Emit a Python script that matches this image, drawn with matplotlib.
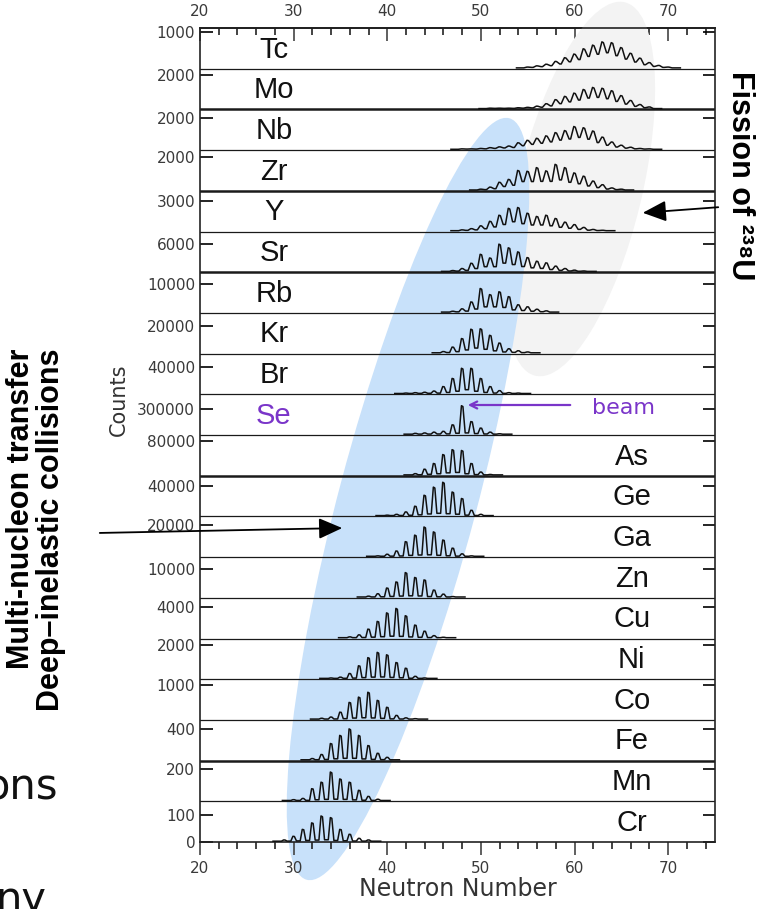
import matplotlib
matplotlib.use("Agg")
import matplotlib.pyplot as plt
from matplotlib.patches import Ellipse
from matplotlib.transforms import Affine2D
from matplotlib.ticker import MultipleLocator

# --- datos ---
elements = ['Tc', 'Mo', 'Nb', 'Zr', 'Y', 'Sr', 'Rb', 'Kr', 'Br', 'Se',
            'As', 'Ge', 'Ga', 'Zn', 'Cu', 'Ni', 'Co', 'Fe', 'Mn', 'Cr']
count_labels = ['1000', '2000', '2000', '2000', '3000', '6000', '10000', '20000', '40000', '300000',
                '80000', '40000', '20000', '10000', '4000', '2000', '1000', '400', '200', '100']
first_n = [55, 51, 48, 50, 48, 47, 47, 46, 42, 43, 43, 40, 39, 38, 36, 34, 33, 32, 30, 29]
peak_heights = [
    [0.02, 0.05, 0.09, 0.16, 0.25, 0.34, 0.47, 0.56, 0.64, 0.62, 0.50, 0.36, 0.24, 0.13, 0.06, 0.02],
    [0.01, 0.01, 0.01, 0.02, 0.03, 0.06, 0.12, 0.22, 0.30, 0.38, 0.47, 0.52, 0.50, 0.44, 0.32, 0.20, 0.10, 0.04],
    [0.01, 0.01, 0.02, 0.04, 0.06, 0.08, 0.16, 0.22, 0.27, 0.33, 0.41, 0.46, 0.56, 0.53, 0.45, 0.30, 0.18, 0.10, 0.05, 0.02, 0.01],
    [0.02, 0.07, 0.19, 0.26, 0.48, 0.46, 0.55, 0.47, 0.63, 0.55, 0.42, 0.34, 0.22, 0.13, 0.05, 0.02],
    [0.02, 0.05, 0.12, 0.23, 0.38, 0.55, 0.57, 0.43, 0.35, 0.38, 0.30, 0.21, 0.15, 0.08, 0.03, 0.01],
    [0.02, 0.07, 0.20, 0.42, 0.33, 0.67, 0.58, 0.48, 0.34, 0.25, 0.21, 0.13, 0.07, 0.03, 0.01],
    [0.02, 0.08, 0.25, 0.58, 0.43, 0.50, 0.38, 0.18, 0.13, 0.07, 0.03],
    [0.03, 0.14, 0.35, 0.58, 0.59, 0.43, 0.24, 0.10, 0.05, 0.02],
    [0.01, 0.02, 0.03, 0.06, 0.17, 0.37, 0.62, 0.62, 0.37, 0.17, 0.07, 0.02, 0.01],
    [0.02, 0.03, 0.05, 0.07, 0.23, 0.70, 0.31, 0.15, 0.05, 0.01],
    [0.03, 0.14, 0.28, 0.50, 0.62, 0.60, 0.28, 0.07, 0.01],
    [0.01, 0.03, 0.09, 0.23, 0.50, 0.70, 0.82, 0.58, 0.42, 0.13, 0.03],
    [0.01, 0.05, 0.13, 0.36, 0.52, 0.72, 0.60, 0.40, 0.20, 0.06, 0.01],
    [0.02, 0.08, 0.22, 0.37, 0.60, 0.48, 0.42, 0.17, 0.07, 0.01],
    [0.02, 0.07, 0.21, 0.40, 0.61, 0.72, 0.54, 0.31, 0.16, 0.05, 0.01],
    [0.01, 0.03, 0.12, 0.31, 0.51, 0.64, 0.58, 0.39, 0.25, 0.05, 0.01],
    [0.02, 0.05, 0.17, 0.41, 0.54, 0.66, 0.46, 0.29, 0.09, 0.03, 0.01],
    [0.03, 0.13, 0.40, 0.60, 0.76, 0.60, 0.35, 0.16, 0.06],
    [0.02, 0.05, 0.29, 0.45, 0.70, 0.53, 0.45, 0.25, 0.10, 0.03],
    [0.03, 0.12, 0.29, 0.45, 0.62, 0.58, 0.29, 0.17, 0.07, 0.03],
]
# profundidad de los valles entre picos (fraccion del pico menor)
valley_ratio = [0.6, 0.55, 0.55, 0.45, 0.4, 0.35, 0.3, 0.2, 0.15, 0.1,
                0.1, 0.08, 0.06, 0.06, 0.06, 0.06, 0.06, 0.06, 0.06, 0.06]

# --- estilo ---
tick_frac = [0.9, 0.85, 0.8, 0.83, 0.75, 0.7, 0.7, 0.68, 0.68, 0.63,
             0.85, 0.75, 0.78, 0.7, 0.78, 0.83, 0.85, 0.78, 0.8, 0.66]
tick_gray = [1, 1, 0, 0, 1, 1, 0, 0, 0, 1, 0, 0, 1, 0, 0, 1, 0, 0, 1, 1, 0]
peak_halfwidth = [0.42, 0.42, 0.42, 0.4, 0.38, 0.36, 0.35, 0.34, 0.33, 0.32,
                  0.3, 0.3, 0.3, 0.3, 0.3, 0.3, 0.3, 0.3, 0.3, 0.3]
thick_lines = [18, 16, 14, 9, 2]
purple = '#7a35c9'
W, H = 761, 909

fig = plt.figure(figsize=(W / 100, H / 100), dpi=100)
ax = fig.add_axes([200 / W, 1 - 842 / H, 515 / W, 814 / H])
px = Affine2D().scale(1 / W, -1 / H).translate(0, 1) + fig.transFigure  # coordenadas en pixeles

ax.set_xlim(20, 75)
ax.set_ylim(0, 20)

# elipses de fondo
ax.add_patch(Ellipse((580, 189), 384, 124, angle=-76.5, transform=px, facecolor='#f3f3f3',
                     edgecolor='none', zorder=0.4, clip_on=False))
ax.add_patch(Ellipse((408, 499), 788, 138, angle=-75.1, transform=px, facecolor='#c8e1fa',
                     edgecolor='none', zorder=0.5, clip_on=False))

# separadores de paneles
for b in range(1, 20):
    ax.axhline(b, color='#1a1a1a', lw=1.8 if b in thick_lines else 0.9, zorder=1)

# espectros
for k, name in enumerate(elements):
    base = 19 - k + 0.02
    hs = peak_heights[k]
    r = valley_ratio[k]
    hw = peak_halfwidth[k]
    xs, ys = [first_n[k] - 1.2], [0.0]
    for i, h in enumerate(hs):
        c = first_n[k] + i
        left = r * min(h, hs[i - 1]) if i > 0 else 0.0
        right = r * min(h, hs[i + 1]) if i < len(hs) - 1 else 0.0
        xs += [c - hw, c - 0.08, c + 0.08, c + hw]
        ys += [left, h, h * 0.97, right]
    xs.append(first_n[k] + len(hs) + 0.3)
    ys.append(0.0)
    ax.plot(xs, [base + y for y in ys], color='#111111', lw=1.1, zorder=3)

    color = purple if name == 'Se' else '#111111'
    xlab = 27.9 if k < 10 else 66.1
    ax.text(xlab, 19 - k + 0.47, name, ha='center', va='center', fontsize=21,
            family='Liberation Sans', color=color, zorder=4)

# ejes y
yt = [19 - k + tick_frac[k] for k in range(20)] + [0]
ax.set_yticks(yt)
ax.set_yticklabels(count_labels + ['0'], fontsize=11, color='#3a3a3a')
ax.tick_params(axis='y', direction='in', length=9, width=1.2, pad=3.5, right=True)
for t, g in zip(ax.yaxis.get_major_ticks(), tick_gray):
    c = '#b0b0b0' if g else '#222222'
    t.tick1line.set_color(c)
    t.tick2line.set_color(c)

# ejes x
ax.xaxis.set_major_locator(MultipleLocator(10))
ax.xaxis.set_minor_locator(MultipleLocator(2))
ax.tick_params(axis='x', which='major', direction='out', length=9, width=1.2, pad=5,
               labelsize=11, labelcolor='#3a3a3a', color='#444444')
ax.tick_params(axis='x', which='minor', direction='out', length=5, width=1.2, color='#222222')
top = ax.secondary_xaxis('top')
top.xaxis.set_major_locator(MultipleLocator(10))
top.xaxis.set_minor_locator(MultipleLocator(2))
top.tick_params(which='major', direction='in', length=9, width=1.2, pad=6.5,
                labelsize=11, labelcolor='#3a3a3a', color='#444444')
top.tick_params(which='minor', direction='in', length=5, width=1.2, color='#222222')
top.spines['top'].set_linewidth(1.2)

for s in ax.spines.values():
    s.set_linewidth(1.2)
    s.set_color('#222222')

# textos
fig.text(458, 889, 'Neutron Number', transform=px, ha='center', va='center',
         fontsize=17, color='#333333')
fig.text(119, 400, 'Counts', transform=px, ha='center', va='center', rotation=90,
         fontsize=15, color='#333333')
fig.text(623, 408, 'beam', transform=px, ha='center', va='center', fontsize=16, color=purple)
ax.annotate('', xy=(465, 405), xytext=(573, 405), xycoords=px, textcoords=px,
            arrowprops=dict(arrowstyle='->,head_length=0.5,head_width=0.25', color=purple, lw=1.6),
            annotation_clip=False)

fig.text(740, 176, 'Fission of \u00b2\u00b3\u2078U', transform=px, ha='center', va='center',
         rotation=270, fontsize=22, fontweight='bold', family=['Liberation Sans', 'DejaVu Sans'])
ax.annotate('', xy=(640, 213), xytext=(721, 207), xycoords=px, textcoords=px,
            arrowprops=dict(arrowstyle='-|>,head_length=0.9,head_width=0.4', color='black', lw=1.3,
                            mutation_scale=16), annotation_clip=False)

fig.text(36, 530, 'Multi-nucleon transfer\nDeep\u2013inelastic collisions', transform=px,
         ha='center', va='center', rotation=90, multialignment='right', linespacing=1.0,
         fontsize=22, fontweight='bold', family='Liberation Sans')
ax.annotate('', xy=(345, 528), xytext=(97, 533), xycoords=px, textcoords=px,
            arrowprops=dict(arrowstyle='-|>,head_length=0.9,head_width=0.4', color='black', lw=1.3,
                            mutation_scale=16), annotation_clip=False)

# restos de la diapositiva (cortados en el borde, como en el original)
fig.text(58, 800, 'ons', transform=px, ha='right', va='baseline', fontsize=30, color='#111111')
fig.text(46, 912, 'ny', transform=px, ha='right', va='baseline', fontsize=30, color='#111111')

fig.savefig('out.png', dpi=100)
